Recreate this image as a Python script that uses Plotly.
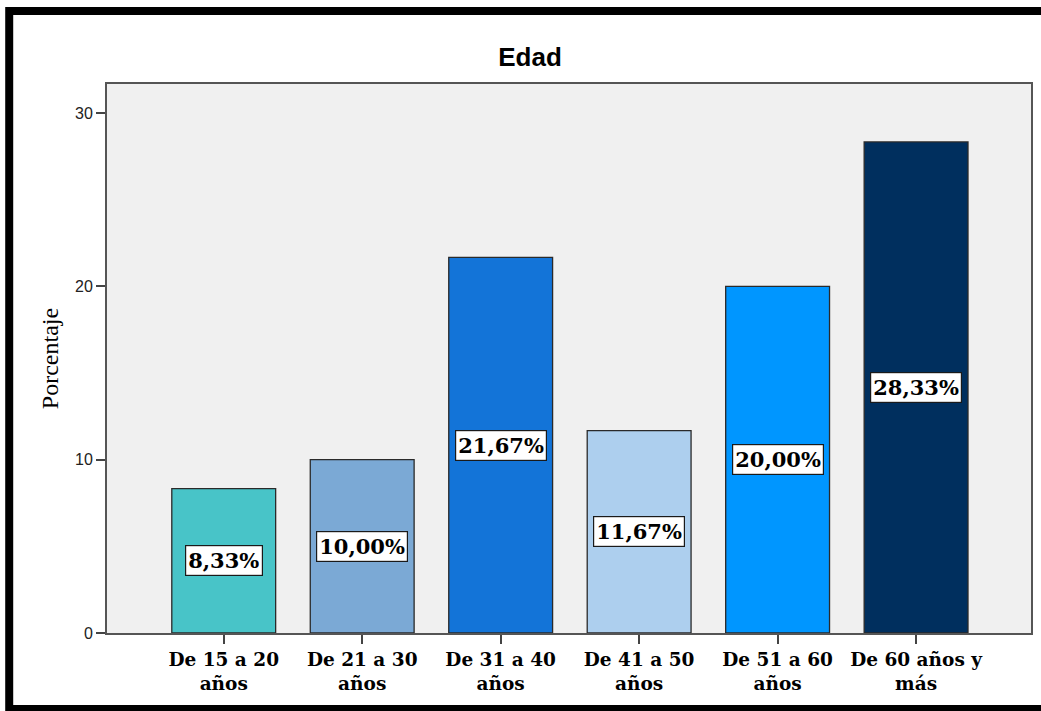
import plotly.graph_objects as go

categories = ["De 15 a 20<br>años", "De 21 a 30<br>años", "De 31 a 40<br>años",
              "De 41 a 50<br>años", "De 51 a 60<br>años", "De 60 años y<br>más"]
percentages = [8.33, 10.00, 21.67, 11.67, 20.00, 28.33]
bar_colors = ["#48C4C8", "#7BA9D5", "#1374D8", "#ADCFEE", "#0096FF", "#002F5E"]
y_ticks = [0, 10, 20, 30]

W, H = 1041, 711
L, R, T, B = 107, 1033, 84, 633

fig = go.Figure()
fig.add_trace(go.Bar(
    x=list(range(len(categories))), y=percentages,
    marker=dict(color=bar_colors, line=dict(color="#2a2a2a", width=1.3)),
    width=0.75, showlegend=False, hoverinfo="skip"))

for i, v in enumerate(percentages):
    fig.add_annotation(x=i, y=v / 2, xref="x", yref="y",
                       text="<b>" + f"{v:.2f}".replace(".", ",") + "%</b>",
                       showarrow=False, bgcolor="white", bordercolor="#1a1a1a",
                       borderwidth=1.2, borderpad=2,
                       font=dict(family="DejaVu Serif", size=21, color="black"))

pw, ph = R - L, B - T
def px_x(p):
    return (p - L) / pw
def px_y(p):
    return (B - p) / ph

# outer black frame (top, left, bottom)
fig.add_shape(type="rect", xref="paper", yref="paper",
              x0=px_x(9), x1=px_x(1060), y0=px_y(709), y1=px_y(11),
              line=dict(color="black", width=8), fillcolor="rgba(0,0,0,0)")

fig.update_layout(
    width=W, height=H,
    margin=dict(l=L, r=W - R, t=T, b=H - B, pad=0),
    paper_bgcolor="white", plot_bgcolor="#F0F0F0",
    title=dict(text="<b>Edad</b>", x=530 / W, xanchor="center",
               y=1 - 57 / H, yanchor="middle",
               font=dict(family="Liberation Sans, Arial", size=26, color="black")),
    xaxis=dict(tickmode="array", tickvals=list(range(len(categories))),
               ticktext=["<b>" + c + "</b>" for c in categories],
               range=[-0.843, 5.83], showgrid=False, zeroline=False,
               showline=True, linecolor="#555555", linewidth=2, mirror=True,
               ticks="outside", ticklen=9, tickwidth=1.5, tickcolor="#444444",
               tickfont=dict(family="DejaVu Serif", size=18.5, color="black"),
               tickangle=0, fixedrange=True),
    yaxis=dict(range=[0, 31.67], tickmode="array", tickvals=y_ticks,
               showgrid=False, zeroline=False,
               showline=True, linecolor="#555555", linewidth=2, mirror=True,
               ticks="outside", ticklen=9, tickwidth=1.5, tickcolor="#444444",
               tickfont=dict(family="Liberation Sans, Arial", size=16, color="#222222"),
               title=dict(text="Porcentaje", standoff=10,
                          font=dict(family="Liberation Serif, Times New Roman", size=24, color="black")),
               fixedrange=True),
)

fig.write_html("out.html", config={"displayModeBar": False},
               post_script="document.body.style.margin='0';")
